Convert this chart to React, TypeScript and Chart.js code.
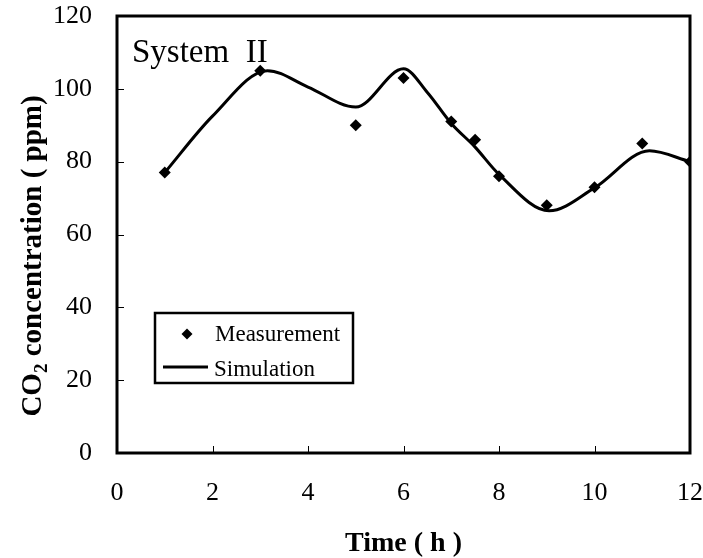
import React, { useEffect, useRef } from "react";
import { Chart, registerables } from "chart.js";

Chart.register(...registerables);

// Measured CO2 concentration (ppm) vs time (h)
const measTime = [1, 3, 5, 6, 7, 7.5, 8, 9, 10, 11, 12];
const measCO2 = [77, 105, 90, 103, 91, 86, 76, 68, 73, 85, 80];

// Simulated curve
const simTime = [1, 2, 3.15, 4, 5, 6, 6.5, 7, 7.5, 8, 9.05, 10, 11.15, 12];
const simCO2 = [77, 92.5, 105, 100.5, 95, 105.5, 99, 90.5, 84, 76.5, 66.5, 72.8, 83, 80];

const xTickValues = [0, 2, 4, 6, 8, 10, 12];
const yTickValues = [0, 20, 40, 60, 80, 100, 120];

const panelTitle = "System  II";
const legendLabels = ["Measurement", "Simulation"];
const xTitle = "Time ( h )";

const SERIF = '"Liberation Serif", "Times New Roman", serif';

const framePlugin = {
  id: "framePlugin",
  afterDraw(chart: any) {
    const { ctx, chartArea: a, scales } = chart;
    ctx.save();
    ctx.strokeStyle = "#000";
    ctx.fillStyle = "#000";

    // inner tick marks
    ctx.lineWidth = 1;
    ctx.beginPath();
    xTickValues.forEach((v) => {
      if (v <= scales.x.min || v >= scales.x.max) return;
      const x = Math.round(scales.x.getPixelForValue(v)) + 0.5;
      ctx.moveTo(x, a.bottom);
      ctx.lineTo(x, a.bottom - 7);
    });
    yTickValues.forEach((v) => {
      if (v <= scales.y.min || v >= scales.y.max) return;
      const y = Math.round(scales.y.getPixelForValue(v)) + 0.5;
      ctx.moveTo(a.left, y);
      ctx.lineTo(a.left + 7, y);
    });
    ctx.stroke();

    // frame
    ctx.lineWidth = 3;
    ctx.strokeRect(a.left, a.top, a.right - a.left, a.bottom - a.top);

    // panel title
    ctx.font = `33px ${SERIF}`;
    ctx.textAlign = "left";
    ctx.textBaseline = "alphabetic";
    ctx.fillText(panelTitle, a.left + 15, a.top + 46);

    // legend box
    const lx = a.left + 38;
    const ly = 313;
    ctx.lineWidth = 2.5;
    ctx.strokeRect(lx, ly, 198, 70);
    // measurement marker
    const mx = lx + 32;
    const my = ly + 21;
    ctx.beginPath();
    ctx.moveTo(mx, my - 5.5);
    ctx.lineTo(mx + 5.5, my);
    ctx.lineTo(mx, my + 5.5);
    ctx.lineTo(mx - 5.5, my);
    ctx.closePath();
    ctx.fill();
    // simulation line
    ctx.lineWidth = 3;
    ctx.beginPath();
    ctx.moveTo(lx + 8, ly + 54);
    ctx.lineTo(lx + 53, ly + 54);
    ctx.stroke();
    ctx.font = `23px ${SERIF}`;
    ctx.fillText(legendLabels[0], lx + 60, ly + 28);
    ctx.fillText(legendLabels[1], lx + 59, ly + 63);

    // x axis title
    ctx.font = `bold 28px ${SERIF}`;
    ctx.textAlign = "center";
    ctx.fillText(xTitle, (a.left + a.right) / 2, 551);

    // y axis title with subscript
    const big = `bold 29px ${SERIF}`;
    const small = `bold 19px ${SERIF}`;
    const p1 = "CO";
    const p2 = "2";
    const p3 = " concentration ( ppm)";
    ctx.font = big;
    const w1 = ctx.measureText(p1).width;
    const w3 = ctx.measureText(p3).width;
    ctx.font = small;
    const w2 = ctx.measureText(p2).width;
    const total = w1 + w2 + w3;
    ctx.translate(41, 256);
    ctx.rotate(-Math.PI / 2);
    ctx.textAlign = "left";
    ctx.textBaseline = "alphabetic";
    let cx = -total / 2;
    ctx.font = big;
    ctx.fillText(p1, cx, 0);
    cx += w1;
    ctx.font = small;
    ctx.fillText(p2, cx, 6);
    cx += w2;
    ctx.font = big;
    ctx.fillText(p3, cx, 0);

    ctx.restore();
  },
};

export default function App() {
  const canvasRef = useRef<HTMLCanvasElement | null>(null);

  useEffect(() => {
    const canvas = canvasRef.current;
    if (!canvas) return;
    Chart.defaults.font.family = SERIF;
    const chart = new Chart(canvas, {
      type: "scatter",
      data: {
        datasets: [
          {
            label: legendLabels[0],
            data: measTime.map((t, i) => ({ x: t, y: measCO2[i] })),
            pointStyle: "rectRot",
            pointRadius: 6,
            pointHoverRadius: 6,
            backgroundColor: "#000",
            borderColor: "#000",
            borderWidth: 0,
            showLine: false,
          },
          {
            label: legendLabels[1],
            data: simTime.map((t, i) => ({ x: t, y: simCO2[i] })),
            showLine: true,
            pointRadius: 0,
            borderColor: "#000",
            backgroundColor: "#000",
            borderWidth: 3,
            cubicInterpolationMode: "monotone",
            fill: false,
          } as any,
        ],
      },
      options: {
        responsive: false,
        animation: false,
        layout: { padding: { top: 16, right: 13, left: 0, bottom: 0 } },
        plugins: {
          legend: { display: false },
          tooltip: { enabled: false },
          title: { display: false },
        },
        scales: {
          x: {
            type: "linear",
            min: 0,
            max: 12,
            afterBuildTicks: (s: any) => {
              s.ticks = xTickValues.map((v) => ({ value: v }));
            },
            ticks: {
              font: { family: SERIF, size: 26 },
              color: "#000",
              padding: 0,
              maxRotation: 0,
            },
            grid: { display: false, drawTicks: true, tickLength: 25 },
            border: { display: false },
            afterFit: (s: any) => {
              s.height = 105;
            },
          },
          y: {
            type: "linear",
            min: 0,
            max: 120,
            afterBuildTicks: (s: any) => {
              s.ticks = yTickValues.map((v) => ({ value: v }));
            },
            ticks: {
              font: { family: SERIF, size: 26 },
              color: "#000",
              padding: 0,
            },
            grid: { display: false, drawTicks: true, tickLength: 25 },
            border: { display: false },
            afterFit: (s: any) => {
              s.width = 117;
            },
          },
        },
      },
      plugins: [framePlugin],
    });
    return () => chart.destroy();
  }, []);

  return (
    <div style={{ position: "absolute", left: 0, top: 0, width: 703, height: 558, background: "#fff" }}>
      <canvas ref={canvasRef} width={703} height={558} />
    </div>
  );
}
